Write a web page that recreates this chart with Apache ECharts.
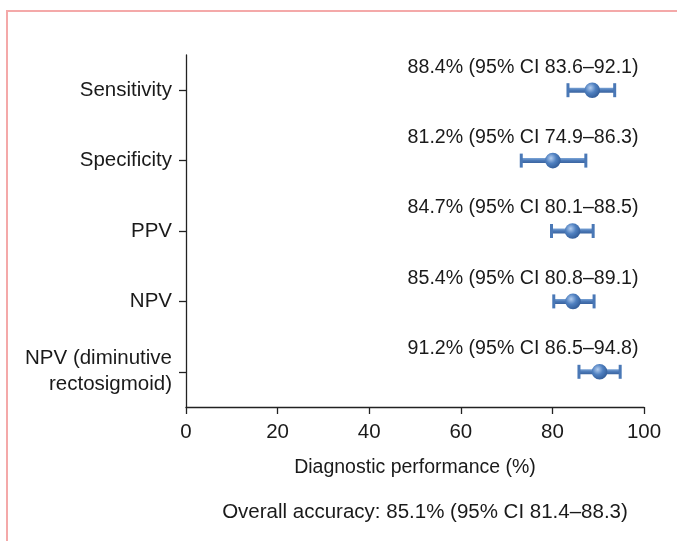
<!DOCTYPE html>
<html>
<head>
<meta charset="utf-8">
<script src="https://cdn.jsdelivr.net/npm/echarts@6/dist/echarts.min.js"></script>
<style>
  html, body { margin: 0; padding: 0; background: #fff; }
  #frame { position: absolute; left: 6px; top: 10px; right: 0; bottom: 0;
           border-top: 2px solid #f4a9a9; border-left: 2px solid #f4a9a9; }
  #chart { position: absolute; left: 0; top: 0; width: 677px; height: 541px; }
</style>
</head>
<body>
<div id="frame"></div>
<div id="chart"></div>
<script>
// rows, top to bottom
const categories = ['Sensitivity', 'Specificity', 'PPV', 'NPV', 'NPV (diminutive\nrectosigmoid)'];
// marker positions as drawn in the figure
const pointValues = [88.7, 80.1, 84.4, 84.5, 90.3];
const lowValues = [83.4, 73.2, 79.8, 80.3, 85.8];
const highValues = [93.6, 87.3, 88.9, 89.1, 94.8];
const ciLabels = [
  '88.4% (95% CI 83.6–92.1)',
  '81.2% (95% CI 74.9–86.3)',
  '84.7% (95% CI 80.1–88.5)',
  '85.4% (95% CI 80.8–89.1)',
  '91.2% (95% CI 86.5–94.8)'
];
const xTicks = [0, 20, 40, 60, 80, 100];
const xName = 'Diagnostic performance (%)';
const overallText = 'Overall accuracy: 85.1% (95% CI 81.4–88.3)';

const FONT = 'Liberation Sans, Arial, sans-serif';
const TEXT = '#1a1a1a';
const labelAnchor = 98.8; // right edge of the CI text, in axis units

const rows = categories.map((c, i) => [i, pointValues[i], lowValues[i], highValues[i]]);

const barFill = new echarts.graphic.LinearGradient(0, 0, 0, 1, [
  { offset: 0, color: '#7aa3d6' },
  { offset: 0.5, color: '#4a78b6' },
  { offset: 1, color: '#3a639f' }
]);
const ballFill = new echarts.graphic.RadialGradient(0.38, 0.35, 0.75, [
  { offset: 0, color: '#b3cdef' },
  { offset: 0.45, color: '#4f80c0' },
  { offset: 1, color: '#2c5590' }
]);

function renderItem(params, api) {
  const cat = api.value(0);
  const p = api.coord([api.value(1), cat]);
  const lo = api.coord([api.value(2), cat]);
  const hi = api.coord([api.value(3), cat]);
  const lab = api.coord([labelAnchor, cat]);
  const y = p[1];
  return {
    type: 'group',
    children: [
      { type: 'rect', shape: { x: lo[0], y: y - 2.5, width: hi[0] - lo[0], height: 5 },
        style: { fill: barFill } },
      { type: 'rect', shape: { x: lo[0] - 1.5, y: y - 7, width: 3, height: 14 },
        style: { fill: '#4a78b6' } },
      { type: 'rect', shape: { x: hi[0] - 1.5, y: y - 7, width: 3, height: 14 },
        style: { fill: '#4a78b6' } },
      { type: 'circle', shape: { cx: p[0], cy: y, r: 7.8 },
        style: { fill: ballFill } },
      { type: 'text', x: lab[0], y: y - 23,
        style: { text: ciLabels[cat], fill: TEXT, font: '19.6px ' + FONT,
                 align: 'right', verticalAlign: 'middle' } }
    ]
  };
}

const chart = echarts.init(document.getElementById('chart'));
chart.setOption({
  backgroundColor: 'transparent',
  animation: false,
  grid: { left: 186, right: 33, top: 55, bottom: 134 },
  xAxis: {
    type: 'value',
    min: xTicks[0],
    max: xTicks[xTicks.length - 1],
    interval: 20,
    name: xName,
    nameLocation: 'middle',
    nameGap: 51,
    nameTextStyle: { fontFamily: FONT, fontSize: 19.5, color: TEXT },
    axisLine: { show: true, lineStyle: { color: '#222', width: 1.3 } },
    axisTick: { show: true, length: 7, lineStyle: { color: '#222', width: 1.3 } },
    axisLabel: { fontFamily: FONT, fontSize: 20.5, color: TEXT, margin: 15 },
    splitLine: { show: false }
  },
  yAxis: {
    type: 'category',
    data: categories,
    inverse: true,
    boundaryGap: true,
    axisLine: { show: true, lineStyle: { color: '#222', width: 1.3 } },
    axisTick: { show: true, alignWithLabel: true, length: 7, lineStyle: { color: '#222', width: 1.3 } },
    axisLabel: { fontFamily: FONT, fontSize: 20.5, color: TEXT, margin: 14, lineHeight: 26 },
    splitLine: { show: false }
  },
  graphic: [{
    type: 'text',
    x: 425,
    y: 512,
    style: { text: overallText, fill: TEXT, font: '20.5px ' + FONT,
             align: 'center', verticalAlign: 'middle' }
  }],
  series: [{
    type: 'custom',
    renderItem: renderItem,
    encode: { x: [1, 2, 3], y: 0 },
    data: rows
  }]
});
</script>
</body>
</html>
